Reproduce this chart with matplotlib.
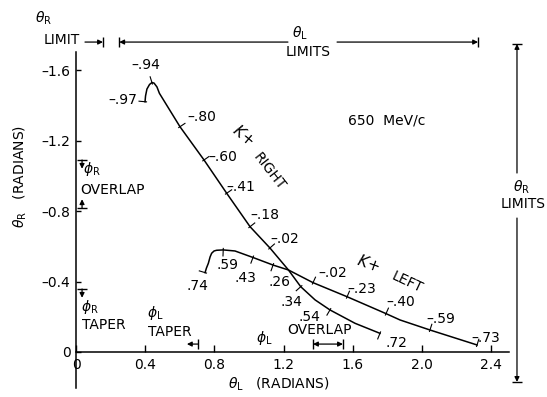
import numpy as np
import matplotlib.pyplot as plt

plt.rcParams['font.family'] = 'DejaVu Sans'
plt.rcParams['font.size'] = 10
plt.rcParams['mathtext.fontset'] = 'dejavusans'

# K+ RIGHT trajectory in (theta_L, theta_R), radians
right_theta_l = [0.399, 0.402, 0.410, 0.425, 0.439, 0.451, 0.468, 0.482, 0.601, 0.740,
                 0.871, 1.006, 1.121, 1.228, 1.299, 1.382, 1.468, 1.613, 1.757]
right_theta_r = [-1.422, -1.455, -1.494, -1.520, -1.531, -1.528, -1.506, -1.470, -1.280, -1.091,
                 -0.902, -0.712, -0.591, -0.466, -0.371, -0.296, -0.239, -0.163, -0.106]
# phi values written along the curve, and the curve point each one marks
right_phi = ['–.97', '–.94', '–.80', '–.60', '–.41', '–.18', '–.02', '.34', '.54', '.72']
right_phi_at = [0, 4, 8, 9, 10, 11, 12, 14, 16, 18]

# K+ LEFT trajectory
left_theta_l = [0.746, 0.754, 0.765, 0.775, 0.784, 0.798, 0.813, 0.851, 0.919, 1.023,
                1.139, 1.228, 1.370, 1.567, 1.792, 1.873, 2.046, 2.318]
left_theta_r = [-0.451, -0.477, -0.504, -0.540, -0.561, -0.574, -0.578, -0.580, -0.574, -0.537,
                -0.494, -0.466, -0.394, -0.314, -0.218, -0.182, -0.125, -0.040]
left_phi = ['.74', '.59', '.43', '.26', '–.02', '–.23', '–.40', '–.59', '–.73']
left_phi_at = [0, 7, 9, 10, 12, 13, 14, 16, 17]

x_ticks = [0, 0.4, 0.8, 1.2, 1.6, 2.0, 2.4]
x_tick_labels = ['0', '0.4', '0.8', '1.2', '1.6', '2.0', '2.4']
y_ticks = [-1.6, -1.2, -0.8, -0.4, 0]
y_tick_labels = ['–1.6', '–1.2', '–0.8', '–0.4', '0']

# acceptance limits
theta_r_limit = 0.156
theta_l_limits = [0.250, 2.324]
theta_r_limits = [-1.750, 0.170]
phi_r_overlap = [-1.091, -0.818]
phi_r_taper = -0.358
phi_l_taper = 0.705
phi_l_overlap = [1.370, 1.543]

# label offsets from the marked point (pixels, y up)
right_off = [(-22.5, 1.7), (-6.5, 17.5), (22, 9.7), (18.5, 3), (14.3, 6.3), (14.5, 11.7),
             (15, 9), (-9.2, -15), (-21, -7), (16, -9.7)]
left_off = [(-8, -13.3), (4.7, -15), (-8, -20.5), (6, -17), (19.5, 9.4), (14.5, 7.4),
            (15, 12), (11, 10.7), (9, 6.7)]

fig = plt.figure(figsize=(5.47, 3.97), dpi=100)
ax = fig.add_axes([0, 0, 1, 1])
ax.set_xlim(-0.4393, 2.7225)
ax.set_ylim(0.2557, -2.0)

for s in ['top', 'right']:
    ax.spines[s].set_visible(False)
ax.spines['left'].set_position(('data', 0))
ax.spines['left'].set_bounds(-1.705, 0.205)
ax.spines['bottom'].set_position(('data', 0))
ax.spines['bottom'].set_bounds(0, 2.5)
for s in ['left', 'bottom']:
    ax.spines[s].set_linewidth(1.1)

ax.set_xticks(x_ticks)
ax.set_xticklabels(x_tick_labels)
ax.set_yticks(y_ticks)
ax.set_yticklabels(y_tick_labels)
ax.tick_params(axis='x', direction='in', length=5, width=1, pad=4, labelsize=10)
ax.tick_params(axis='y', direction='in', length=3.5, width=1, pad=4, labelsize=10)

ax.plot(right_theta_l, right_theta_r, color='k', lw=1.1)
ax.plot(left_theta_l, left_theta_r, color='k', lw=1.1)


def mark_curve(xs, ys, at, labels, offsets):
    pts = ax.transData.transform(np.column_stack([xs, ys]))
    inv = ax.transData.inverted()
    for i, lab, (dx, dy) in zip(at, labels, offsets):
        a = pts[max(i - 1, 0)]
        b = pts[min(i + 1, len(pts) - 1)]
        t = (b - a) / np.hypot(*(b - a))
        n = np.array([-t[1], t[0]])
        if n @ np.array([dx, dy]) < 0:
            n = -n
        seg = inv.transform([pts[i] - 1.5 * n, pts[i] + 6 * n])
        ax.plot(seg[:, 0], seg[:, 1], color='k', lw=0.8)
        ax.annotate(lab, (xs[i], ys[i]), xytext=(dx, dy), textcoords='offset pixels',
                    ha='center', va='center')


mark_curve(right_theta_l, right_theta_r, right_phi_at, right_phi, right_off)
mark_curve(left_theta_l, left_theta_r, left_phi_at, left_phi, left_off)


def arrow(tail, tip, style='-|>'):
    ax.annotate('', xy=tip, xytext=tail, annotation_clip=False,
                arrowprops=dict(arrowstyle=style, color='k', lw=0.9, mutation_scale=7,
                                shrinkA=0, shrinkB=0))


def bar(x, y, vertical=True):
    ax.plot([x], [y], marker='|' if vertical else '_', ms=7, mew=1, color='k', clip_on=False)


# limits drawn above the plot
top_y = -1.761
arrow((0.052, top_y), (theta_r_limit, top_y))
bar(theta_r_limit, top_y)
arrow((1.225, top_y), (theta_l_limits[0], top_y))
arrow((1.509, top_y), (theta_l_limits[1], top_y))
bar(theta_l_limits[0], top_y)
bar(theta_l_limits[1], top_y)
ax.text(-0.185, -1.898, r'$\theta_\mathrm{R}$', ha='center', va='center')
ax.text(-0.081, -1.773, 'LIMIT', ha='center', va='center')
ax.text(1.295, -1.813, r'$\theta_\mathrm{L}$', ha='center', va='center')
ax.text(1.341, -1.705, 'LIMITS', ha='center', va='center')

# theta_R limits at right
rx = 2.549
arrow((rx, -1.017), (rx, theta_r_limits[0]))
arrow((rx, -0.761), (rx, theta_r_limits[1]))
bar(rx, theta_r_limits[0], vertical=False)
bar(rx, theta_r_limits[1], vertical=False)
ax.text(2.578, -0.937, r'$\theta_\mathrm{R}$', ha='center', va='center')
ax.text(2.584, -0.840, 'LIMITS', ha='center', va='center')

# phi_R overlap and taper
px = 0.035
arrow((px, phi_r_overlap[0]), (px, phi_r_overlap[0] + 0.05))
bar(px, phi_r_overlap[0], vertical=False)
arrow((px, phi_r_overlap[1]), (px, phi_r_overlap[1] - 0.05))
bar(px, phi_r_overlap[1], vertical=False)
ax.text(0.092, -1.040, r'$\phi_\mathrm{R}$', ha='center', va='center')
ax.text(0.023, -0.920, 'OVERLAP', ha='left', va='center')
arrow((px, phi_r_taper), (px, phi_r_taper + 0.05))
bar(px, phi_r_taper, vertical=False)
ax.text(0.081, -0.256, r'$\phi_\mathrm{R}$', ha='center', va='center')
ax.text(0.035, -0.153, 'TAPER', ha='left', va='center')

# phi_L taper and overlap
ly = -0.045
arrow((phi_l_taper, ly), (phi_l_taper - 0.064, ly))
bar(phi_l_taper, ly)
ax.text(0.457, -0.222, r'$\phi_\mathrm{L}$', ha='center', va='center')
ax.text(0.416, -0.114, 'TAPER', ha='left', va='center')
arrow((phi_l_overlap[0], ly), (phi_l_overlap[1], ly), style='<|-|>')
bar(phi_l_overlap[0], ly)
bar(phi_l_overlap[1], ly)
ax.text(1.087, -0.080, r'$\phi_\mathrm{L}$', ha='center', va='center')
ax.text(1.410, -0.125, 'OVERLAP', ha='center', va='center')

# curve names and momentum
ax.text(0.965, -1.233, r'$K$+', rotation=-40, ha='center', va='center', fontsize=11)
ax.text(1.116, -1.023, 'RIGHT', rotation=-52, ha='center', va='center')
ax.text(1.688, -0.506, r'$K$+', rotation=-20, ha='center', va='center', fontsize=11)
ax.text(1.913, -0.398, 'LEFT', rotation=-25, ha='center', va='center')
ax.text(1.798, -1.318, '650  MeV/c', ha='center', va='center')

# axis titles
ax.text(-0.324, -1.0, r'$\theta_\mathrm{R}$   (RADIANS)', rotation=90, ha='center', va='center')
ax.text(1.173, 0.182, r'$\theta_\mathrm{L}$   (RADIANS)', ha='center', va='center')

fig.savefig('out.png', dpi=100)
